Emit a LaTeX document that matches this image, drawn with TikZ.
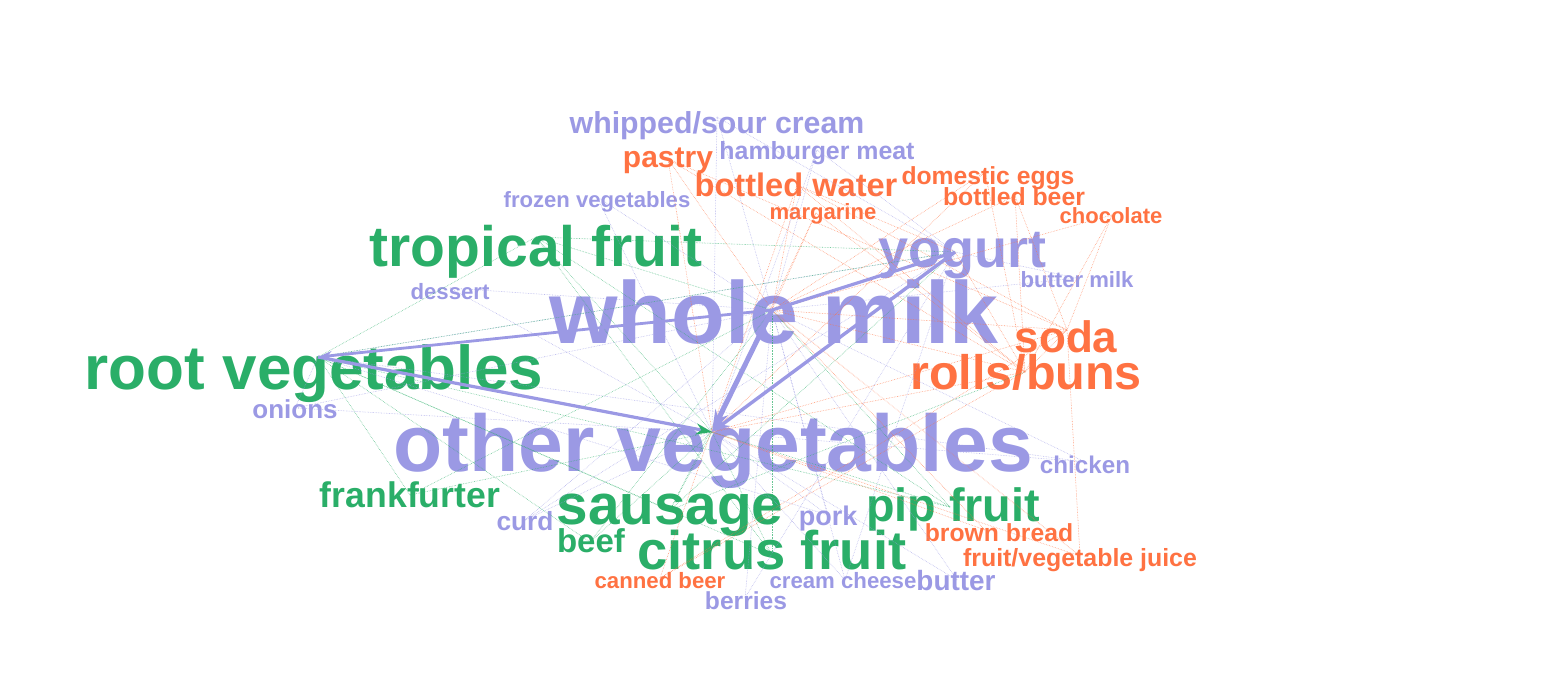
\documentclass[tikz,border=0pt]{standalone}
\usepackage{fontspec}
\setmainfont{Liberation Sans}
\usetikzlibrary{arrows.meta}
\definecolor{cP}{RGB}{155,153,228}
\definecolor{cG}{RGB}{42,174,104}
\definecolor{cO}{RGB}{255,114,66}
\tikzset{
  wd/.style={anchor=base, inner sep=0pt, font=\bfseries\fontsize{#1}{#1}\selectfont},
  wp/.style={wd=#1, text=cP},
  wg/.style={wd=#1, text=cG},
  wo/.style={wd=#1, text=cO},
  ep/.style={draw=cP, line width=0.6pt, densely dotted, opacity=0.7},
  eg/.style={draw=cG, line width=0.6pt, densely dotted, opacity=0.7},
  eo/.style={draw=cO, line width=0.6pt, densely dotted, opacity=0.7},
  thick arrow/.style={draw=cP, line width=#1},
}
\begin{document}
\begin{tikzpicture}[x=1pt,y=-1pt]
\useasboundingbox (0,0) rectangle (1554,682);
% words
\node[wp=88]   (wm) at (774,343) {whole milk};
\node[wp=80.5] (ov) at (713,471) {other vegetables};
\node[wg=62]   (rv) at (314,389) {root vegetables};
\node[wg=57]   (tf) at (536,266) {tropical fruit};
\node[wp=54]   (yo) at (962,267) {yogurt};
\node[wo=44]   (so) at (1066,352) {soda};
\node[wo=48.5] (rb) at (1026,389) {rolls/buns};
\node[wg=56.7] (sa) at (670,524) {sausage};
\node[wg=46.7] (pf) at (953,521) {pip fruit};
\node[wg=54.4] (cf) at (772,569) {citrus fruit};
\node[wg=35.6] (fr) at (410,507) {frankfurter};
\node[wp=30.3] (ws) at (717,134) {whipped/sour cream};
\node[wo=30]   (pa) at (668,167) {pastry};
\node[wp=24.9] (hm) at (817,159) {hamburger meat};
\node[wo=32.6] (bw) at (796,196) {bottled water};
\node[wo=24.7] (de) at (988,184) {domestic eggs};
\node[wo=24.8] (bb) at (1014,205) {bottled beer};
\node[wo=22.1] (ma) at (823,219) {margarine};
\node[wo=22]   (co) at (1111,223) {chocolate};
\node[wp=22.1] (fv) at (597,207) {frozen vegetables};
\node[wp=22.2] (ds) at (450,299) {dessert};
\node[wp=22.1] (bm) at (1077,287) {butter milk};
\node[wp=26]   (on) at (295,418) {onions};
\node[wp=24.2] (ch) at (1085,473) {chicken};
\node[wp=26.3] (cu) at (525,530) {curd};
\node[wp=27]   (pk) at (828,525) {pork};
\node[wg=33]   (bf) at (591,552) {beef};
\node[wo=24.7] (br) at (999,541) {brown bread};
\node[wo=24.9] (fj) at (1080,566) {fruit/vegetable juice};
\node[wo=22.2] (cb) at (660,588) {canned beer};
\node[wp=22.2] (cc) at (843,588) {cream cheese};
\node[wp=27.9] (bu) at (956,590) {butter};
\node[wp=24.6] (be) at (746,609) {berries};
% hubs
\coordinate (W) at (772,310);
\coordinate (Y) at (955,252);
\coordinate (R) at (318,357);
\coordinate (O) at (712,432);
\coordinate (T) at (536,237);
\coordinate (WS) at (717,117);
\coordinate (PA) at (668,159);
\coordinate (HM) at (817,150);
\coordinate (FV) at (597,197);
\coordinate (MA) at (816,213);
\coordinate (BW) at (797,185);
\coordinate (DE) at (985,172);
\coordinate (BB) at (1015,196);
\coordinate (CO) at (1112,215);
\coordinate (DS) at (450,288);
\coordinate (BM) at (1077,278);
\coordinate (SO) at (1067,330);
\coordinate (RB) at (1025,372);
\coordinate (ON) at (295,408);
\coordinate (CH) at (1085,462);
\coordinate (FR) at (410,495);
\coordinate (SA) at (670,510);
\coordinate (PF) at (950,507);
\coordinate (CF) at (772,555);
\coordinate (BF) at (590,542);
\coordinate (CU) at (525,520);
\coordinate (PK) at (828,515);
\coordinate (BR) at (985,530);
\coordinate (FJ) at (1080,556);
\coordinate (CB) at (660,578);
\coordinate (CC) at (845,580);
\coordinate (BU) at (957,580);
\coordinate (BE) at (745,598);
% thin edges
\foreach \a/\b in {WS/W,WS/O,WS/Y,HM/W,HM/O,HM/Y,FV/W,FV/O,DS/W,DS/O,ON/O,ON/W,ON/R,
  BM/W,BM/Y,CH/O,CH/W,CH/R,CU/W,CU/O,CU/Y,PK/O,PK/W,PK/R,BU/W,BU/O,CC/W,CC/O,CC/Y,
  BE/W,BE/Y,Y/R,O/Y}
  \draw[ep] (\a) -- (\b);
\foreach \a/\b in {T/W,T/O,T/Y,T/R,SA/W,SA/O,SA/R,SA/Y,SA/RB,PF/W,PF/O,PF/R,PF/T,
  CF/W,CF/O,CF/R,CF/T,FR/W,FR/O,FR/R,BF/W,BF/O,BF/R,R/W,R/Y}
  \draw[eg] (\a) -- (\b);
\foreach \a/\b in {PA/W,PA/SO,PA/RB,PA/O,BW/W,BW/SO,BW/Y,BW/RB,MA/W,MA/RB,MA/O,
  DE/W,DE/O,DE/RB,BB/W,BB/SO,BB/RB,CO/SO,CO/W,CO/RB,SO/W,SO/O,SO/RB,RB/W,RB/O,RB/Y,
  BR/W,BR/O,FJ/W,FJ/O,FJ/SO,CB/SO,CB/RB,CB/BW}
  \draw[eo] (\a) -- (\b);
% thick arrows
\draw[thick arrow=2.8pt, -{Stealth[length=14pt,width=9pt]}] (W) -- (R);
\draw[thick arrow=3.2pt, -{Stealth[length=12pt,width=9pt]}] (W) -- (Y);
\draw[thick arrow=5pt, -{Stealth[length=22pt,width=14pt]}] (W) -- (O);
\draw[thick arrow=3.4pt, -{Stealth[length=18pt,width=12pt]}] (Y) -- (O);
\draw[thick arrow=3.2pt, -{Stealth[length=16pt,width=11pt,color=cG]}] (R) -- (O);
\end{tikzpicture}
\end{document}
